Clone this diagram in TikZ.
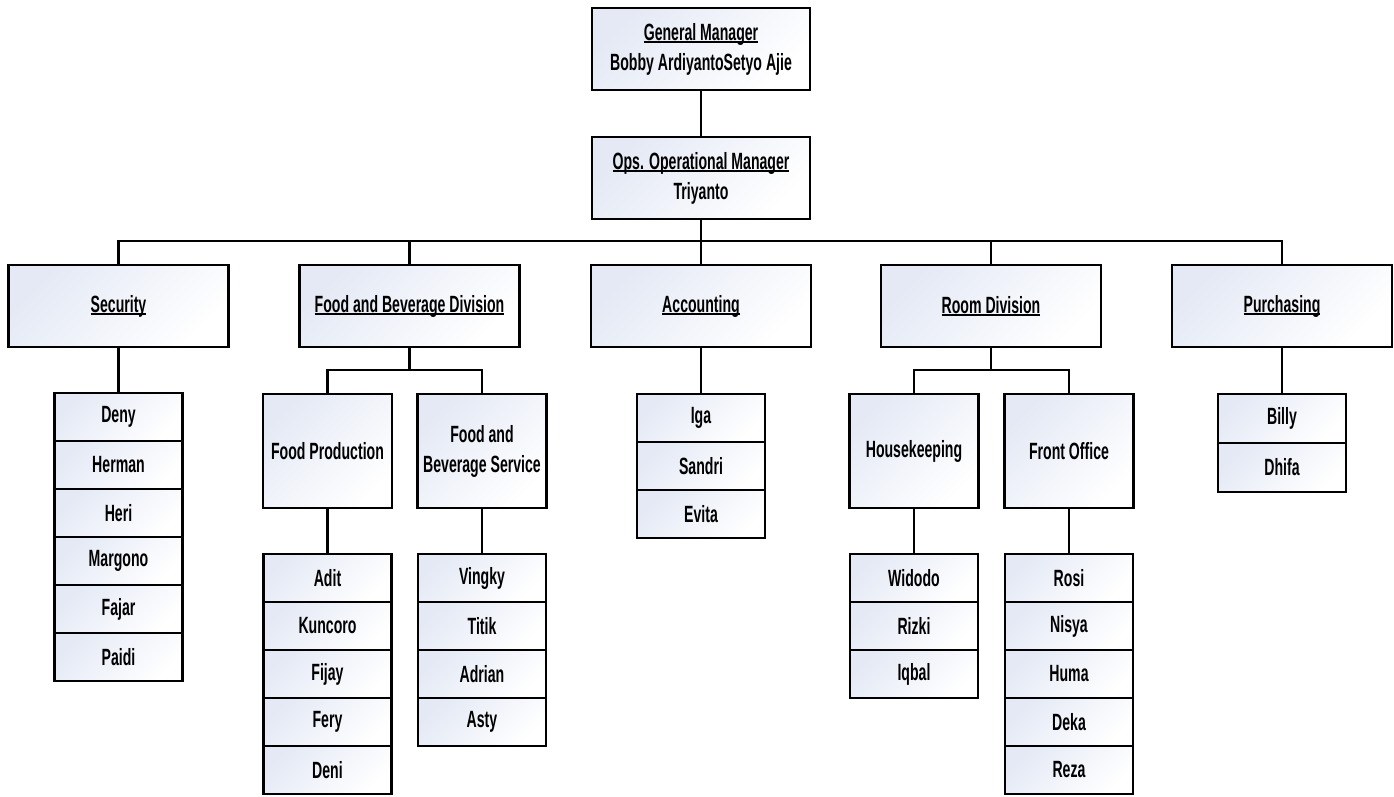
\documentclass[tikz,border=0pt]{standalone}
\usepackage{fontspec}
\newfontfamily\orgfont{Liberation Sans}[FakeStretch=0.6]
\definecolor{shadeblue}{RGB}{228,233,245}
\newcommand\ulx[1]{\setbox0\hbox{#1}\rlap{\rule[-3pt]{\wd0}{1.6pt}}\box0}
\begin{document}
\begin{tikzpicture}[x=1pt,y=-1pt,
  base/.style={draw=black, line width=2.8pt, shading=axis, top color=shadeblue, bottom color=white, shading angle=45,
    font=\orgfont\bfseries\fontsize{23.5}{30}\selectfont, align=center, inner sep=0pt, text=black},
  topbox/.style={base, minimum width=218pt, minimum height=82pt},
  divbox/.style={base, minimum width=220pt, minimum height=82pt},
  subbox/.style={base, minimum width=129pt, minimum height=114pt},
  person/.style={base, minimum width=128pt, minimum height=48pt},
  link/.style={line width=2.8pt, black}
]
\useasboundingbox (0,0) rectangle (1394,796);

% top
\node[topbox] (gm) at (701,49) {\ulx{General Manager}\\Bobby ArdiyantoSetyo Ajie};
\node[topbox] (ops) at (701,178) {\ulx{Ops. Operational Manager}\\Triyanto};

% divisions
\node[divbox] (sec) at (118.5,306) {\ulx{Security}};
\node[divbox] (fb) at (409.5,306) {\ulx{Food and Beverage Division}};
\node[divbox] (acc) at (701,306) {\ulx{Accounting}};
\node[divbox] (rd) at (991,306) {\ulx{Room Division}};
\node[divbox] (pur) at (1282,306) {\ulx{Purchasing}};

% sub departments
\node[subbox] (fp) at (327.5,451) {Food Production};
\node[subbox] (fbs) at (482,451) {Food and\\Beverage Service};
\node[subbox] (hk) at (914,451) {Housekeeping};
\node[subbox] (fo) at (1069,451) {Front Office};

% security staff
\node[person] (s1) at (118.5,417) {Deny};
\node[person] (s2) at (118.5,465) {Herman};
\node[person] (s3) at (118.5,513) {Heri};
\node[person] (s4) at (118.5,561) {Margono};
\node[person] (s5) at (118.5,609) {Fajar};
\node[person] (s6) at (118.5,657) {Paidi};

% food production staff
\node[person] (p1) at (327.5,578) {Adit};
\node[person] (p2) at (327.5,626) {Kuncoro};
\node[person] (p3) at (327.5,674) {Fijay};
\node[person] (p4) at (327.5,722) {Fery};
\node[person] (p5) at (327.5,770) {Deni};

% f&b service staff
\node[person] (v1) at (482,578) {Vingky};
\node[person] (v2) at (482,626) {Titik};
\node[person] (v3) at (482,674) {Adrian};
\node[person] (v4) at (482,722) {Asty};

% accounting staff
\node[person] (a1) at (701,418) {Iga};
\node[person] (a2) at (701,466) {Sandri};
\node[person] (a3) at (701,514) {Evita};

% housekeeping staff
\node[person] (h1) at (914,578) {Widodo};
\node[person] (h2) at (914,626) {Rizki};
\node[person] (h3) at (914,674) {Iqbal};

% front office staff
\node[person] (f1) at (1069,578) {Rosi};
\node[person] (f2) at (1069,626) {Nisya};
\node[person] (f3) at (1069,674) {Huma};
\node[person] (f4) at (1069,722) {Deka};
\node[person] (f5) at (1069,770) {Reza};

% purchasing staff
\node[person, minimum height=49pt] (b1) at (1282,418.5) {Billy};
\node[person, minimum height=49pt] (b2) at (1282,467.5) {Dhifa};

% connectors
\coordinate (busy) at (0,241);
\coordinate (suby) at (0,370);
\draw[link] (gm.south) -- (ops.north);
\draw[link] (ops.south) -- (ops.south |- busy);
\draw[link] (sec.north) |- (busy -| pur.north) -- (pur.north);
\draw[link] (fb.north) -- (fb.north |- busy);
\draw[link] (acc.north) -- (acc.north |- busy);
\draw[link] (rd.north) -- (rd.north |- busy);

\draw[link] (sec.south) -- (s1.north);
\draw[link] (acc.south) -- (a1.north);
\draw[link] (pur.south) -- (b1.north);

\draw[link] (fb.south) -- (fb.south |- suby);
\draw[link] (fp.north) |- (suby -| fbs.north) -- (fbs.north);
\draw[link] (rd.south) -- (rd.south |- suby);
\draw[link] (hk.north) |- (suby -| fo.north) -- (fo.north);

\draw[link] (fp.south) -- (p1.north);
\draw[link] (fbs.south) -- (v1.north);
\draw[link] (hk.south) -- (h1.north);
\draw[link] (fo.south) -- (f1.north);
\end{tikzpicture}
\end{document}
